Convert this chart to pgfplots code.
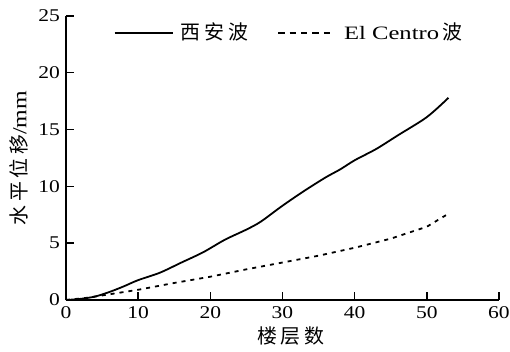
\documentclass[border=0pt]{standalone}
\usepackage{pgfplots}
\pgfplotsset{compat=1.18}
\usetikzlibrary{calc}
\usepackage{fontspec}
\setmainfont{Liberation Serif}[FakeStretch=1.2]
\newfontfamily\legserif{Liberation Serif}[FakeStretch=1.3]
\newfontfamily\cjk{Noto Sans CJK SC}[LetterSpace=18]
\newfontfamily\cjkleg{Noto Sans CJK SC}[LetterSpace=20]
\pgfplotsset{
  dashleg/.style={legend image code/.code={\draw[##1, dash pattern=on 6.4bp off 5bp] (0bp,0bp) -- (52bp,0bp);}},
  solidleg/.style={legend image code/.code={\draw[##1] (0bp,0bp) -- (58bp,0bp);}},
}
\begin{document}
\fontsize{18}{21}\selectfont
\begin{tikzpicture}
\begin{axis}[
  name=ax,
  scale only axis, width=433bp, height=284bp,
  xmin=0, xmax=60, ymin=0, ymax=25,
  axis x line=bottom, axis y line=left,
  axis line style={-, line width=1.6bp},
  xtick={0,10,...,60}, ytick={0,5,...,25},
  tick align=inside, major tick length=8bp,
  tick style={line width=1.4bp, black},
  /pgf/number format/assume math mode=true,
  ticklabel style={font=\fontsize{18}{21}\selectfont},
  xlabel={\fontsize{20}{22}\selectfont\cjk 楼层数}, ylabel={\fontsize{20}{22}\selectfont\cjk 水平位移\rmfamily/mm},
  xlabel style={yshift=4bp, xshift=8bp},
  ylabel style={yshift=-2bp},
  legend style={at={(0.103,0.99)}, anchor=north west, draw=none, fill=none, legend columns=2, font=\fontsize{19}{22}\selectfont,
    /tikz/every even column/.append style={column sep=27bp},
    /tikz/every odd column/.append style={column sep=5bp}},
  legend cell align=left,
  clip=false,
]
\addplot[black, line width=1.8bp, smooth, solidleg] coordinates {
(0,0) (2,0.1) (4,0.3) (6,0.7) (8,1.2) (10,1.75) (13,2.4) (16,3.3) (19,4.2) (22,5.3) (25,6.2) (27,6.9) (30,8.3) (33,9.6) (36,10.8) (38,11.5) (40,12.3) (43,13.3) (46,14.5) (50,16.1) (53,17.8)
};
\addlegendentry{\fontsize{20}{22}\selectfont\cjkleg 西安波}
\addplot[black, line width=1.8bp, dash pattern=on 4bp off 5bp, dashleg] coordinates {
(0,0) (3,0.2) (5,0.4) (10,0.9) (15,1.5) (20,2.05) (25,2.7) (30,3.3) (35,3.9) (40,4.6) (45,5.4) (50,6.45) (53,7.6)
};
\addlegendentry{\hspace{6bp}\legserif El Centro\,\fontsize{20}{22}\selectfont\cjkleg 波}
\end{axis}
\pgfresetboundingbox
\useasboundingbox ($(ax.south west)+(-66bp,-52bp)$) rectangle ($(ax.south west)+(444bp,300bp)$);
\end{tikzpicture}
\end{document}
